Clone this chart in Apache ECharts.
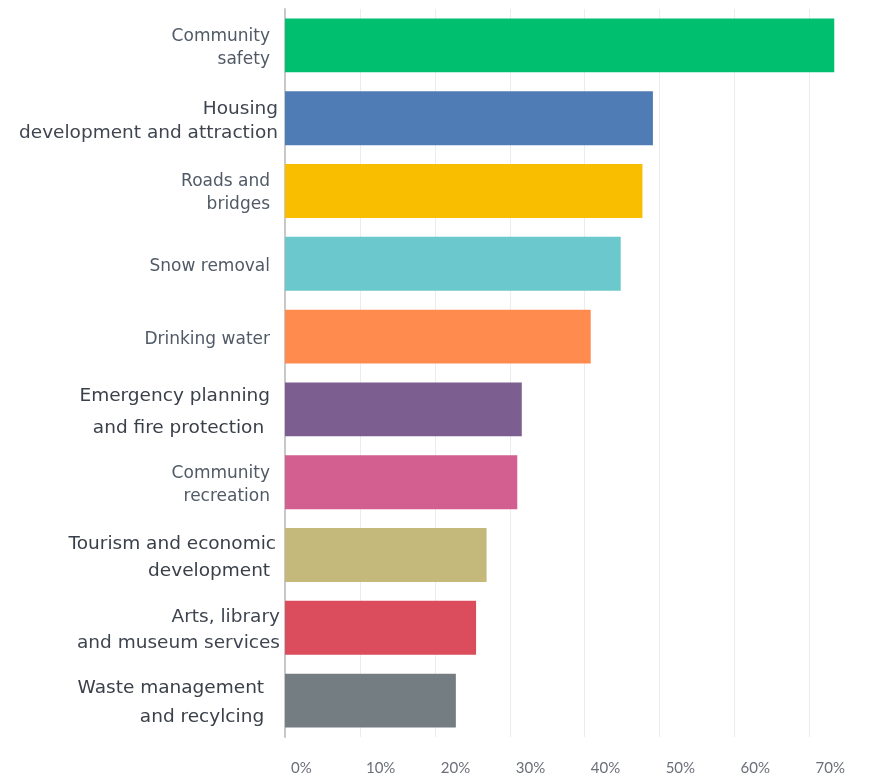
<!DOCTYPE html>
<html>
<head>
<meta charset="utf-8">
<script src="https://cdn.jsdelivr.net/npm/echarts@6/dist/echarts.min.js"></script>
<style>html,body{margin:0;padding:0;background:#fff;}#c{width:883px;height:778px;}</style>
</head>
<body>
<div id="c"></div>
<script>
const categories = [
  'Community\nsafety',
  'Housing\ndevelopment and attraction',
  'Roads and\nbridges',
  'Snow removal',
  'Drinking water',
  'Emergency planning\nand fire protection ',
  'Community\nrecreation',
  'Tourism and economic\ndevelopment ',
  'Arts, library\nand museum services',
  'Waste management \nand recylcing '
];
const values = [73.3, 49.1, 47.7, 44.8, 40.8, 31.6, 31.0, 26.9, 25.5, 22.8];
const colors = ['#00BF6F', '#507CB6', '#F9BE00', '#6BC8CD', '#FF8B4F', '#7D5E90', '#D25F90', '#C4B97B', '#DB4D5C', '#747D82'];
const labelStyles = ['s', 'h', 's', 's', 's', 'e', 's', 't', 'a', 'w'];
const tickValues = [0, 10, 20, 30, 40, 50, 60, 70];

function rs(size, lh, color, pr) {
  return {fontFamily: 'DejaVu Sans', fontSize: size, lineHeight: lh, color: color, align: 'right', padding: [0, pr, 0, 0]};
}

const chart = echarts.init(document.getElementById('c'), null, {renderer: 'canvas'});
chart.setOption({
  animation: false,
  backgroundColor: '#fff',
  grid: {left: 285, right: 36, top: 9, bottom: 41, containLabel: false},
  xAxis: {
    type: 'value', min: 0, max: 75, interval: 10,
    axisLine: {show: false},
    axisTick: {show: false},
    splitLine: {show: true, showMaxLine: false, lineStyle: {color: '#ececec', width: 1}},
    axisLabel: {
      showMaxLabel: false,
      align: 'left', margin: 24, padding: [0, 0, 0, 6],
      fontFamily: 'Lato', fontSize: 15, color: '#6b6f78',
      formatter: v => tickValues.includes(v) ? v + '%' : ''
    }
  },
  yAxis: {
    type: 'category', inverse: true, data: categories,
    axisLine: {show: true, lineStyle: {color: '#c8c8c8', width: 2}},
    axisTick: {show: false},
    axisLabel: {
      margin: 5,
      padding: [5, 0, 0, 0],
      formatter: (v, i) => v.split('\n').map(s => '{' + labelStyles[i] + '|' + s + '}').join('\n'),
      rich: {
        s: rs(17, 23, '#505a66', 10),
        h: rs(18.5, 24, '#3e4550', 2),
        e: rs(18.5, 32, '#3a404a', 10),
        t: rs(18.5, 27, '#3a404a', 4),
        a: rs(18.5, 26, '#3e4550', 0),
        w: rs(18.5, 29, '#3a404a', 10)
      }
    }
  },
  series: [{
    type: 'bar',
    data: values.map((v, i) => ({value: v, itemStyle: {color: colors[i]}})),
    barWidth: '74%'
  }]
});
</script>
</body>
</html>
